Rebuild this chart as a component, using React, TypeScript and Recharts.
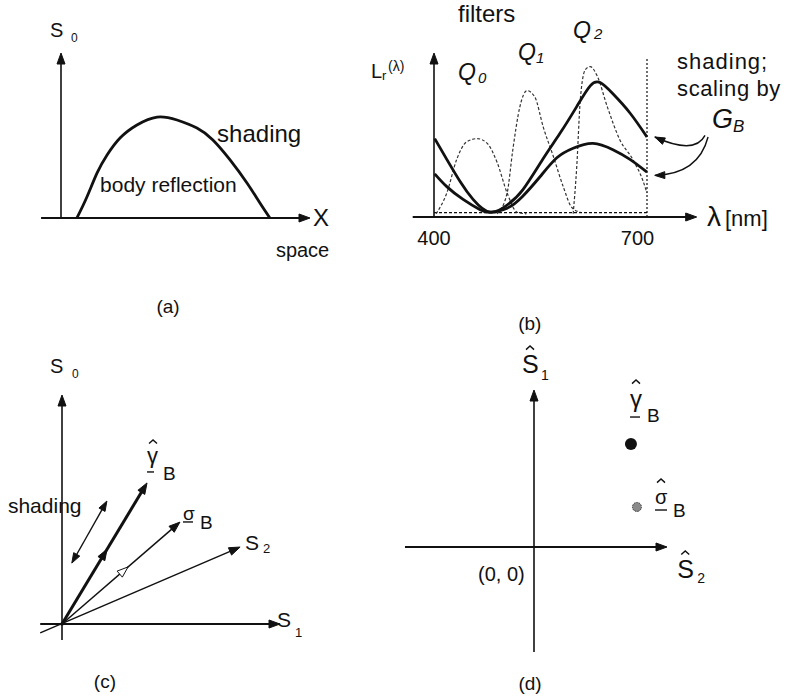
import React from 'react'
import { ComposedChart, Line, Scatter, XAxis, YAxis, ReferenceLine, ReferenceDot } from 'recharts'

const FONT = '"Liberation Sans", Arial, Helvetica, sans-serif'
const INK = '#111'

// (a) body reflection profile S0 along space
const spaceX = [0.64, 1.04, 1.45, 1.85, 2.37, 3.05, 3.86, 4.66, 5.46, 6.1, 6.79, 7.47, 7.99, 8.39]
const bodyS0 = [0, 1.27, 2.73, 3.82, 4.85, 5.64, 6.12, 5.94, 5.45, 4.73, 3.52, 2.12, 0.91, 0]

// (b) reflected spectra and filter curves over wavelength (nm)
const brightLam = [401, 418, 437, 455, 479, 503, 525, 553, 577, 601, 620, 634, 652, 676, 700]
const brightL = [0.49, 0.36, 0.22, 0.11, 0.03, 0.075, 0.17, 0.36, 0.52, 0.69, 0.82, 0.84, 0.77, 0.65, 0.5]
const dimLam = [401, 418, 441, 465, 479, 503, 525, 549, 573, 596, 624, 652, 676, 700]
const dimL = [0.27, 0.19, 0.11, 0.045, 0.03, 0.055, 0.13, 0.25, 0.37, 0.43, 0.46, 0.42, 0.36, 0.28]
const q0Lam = [403, 418, 432, 446, 461, 475, 489, 503, 517, 530]
const q0 = [0.02, 0.15, 0.36, 0.47, 0.49, 0.46, 0.34, 0.15, 0.03, 0.02]
const q1Lam = [489, 503, 511, 521, 531, 542, 554, 568, 582, 594, 606]
const q1 = [0.02, 0.15, 0.42, 0.69, 0.79, 0.75, 0.56, 0.38, 0.19, 0.06, 0.03]
const q2Lam = [596, 601, 606, 613, 620, 630, 644, 662, 680, 694, 700]
const q2 = [0.02, 0.31, 0.73, 0.92, 0.94, 0.88, 0.69, 0.48, 0.36, 0.23, 0.15]
const lamTicks = ['400', '700']

// (c) vectors in the (S1, S0) plane: [fromX, fromY, toX, toY]
const origin = [{ x: 0, y: 0 }]
const s2Axis = [-1.0, -0.39, 8.17, 3.36]
const gammaB = [0, 0, 3.9, 6.16]
const sigmaB = [0, 0, 5.41, 4.45]
const shadingDir = [0.45, 2.66, 2.06, 5.37]

// (d) normalised points in the (S2^, S1^) plane
const gammaHat = [{ x: 7.29, y: 6.56 }]
const sigmaHat = [{ x: 7.74, y: 2.55 }]

const zip = (xs: number[], ys: number[]) => xs.map((x, i) => ({ x, y: ys[i] }))

function head(x: number, y: number, a: number, len: number, half: number, hollow = false) {
  const bx = x - len * Math.cos(a)
  const by = y - len * Math.sin(a)
  const nx = -Math.sin(a) * half
  const ny = Math.cos(a) * half
  return (
    <polygon points={`${x},${y} ${bx + nx},${by + ny} ${bx - nx},${by - ny}`}
      fill={hollow ? '#fff' : INK} stroke={INK} strokeWidth={1} />
  )
}

type ArrowOpt = { start?: boolean; end?: boolean; mid?: number; hollowMid?: boolean; len?: number; half?: number; bend?: [number, number] }

const arrow = (o: ArrowOpt) => (p: any) => {
  const { x1, y1, x2, y2 } = p
  const sw = Number(p.strokeWidth ?? 1.5)
  const len = o.len ?? 11
  const half = o.half ?? 4
  if (o.bend) {
    const cx = (x1 + x2) / 2 + o.bend[0]
    const cy = (y1 + y2) / 2 + o.bend[1]
    const a = Math.atan2(y2 - cy, x2 - cx)
    return (
      <g>
        <path d={`M${x1},${y1} Q${cx},${cy} ${x2},${y2}`} fill="none" stroke={INK} strokeWidth={sw} />
        {head(x2, y2, a, len, half)}
      </g>
    )
  }
  const a = Math.atan2(y2 - y1, x2 - x1)
  const cut = len * 0.7
  const sx = o.start ? x1 + cut * Math.cos(a) : x1
  const sy = o.start ? y1 + cut * Math.sin(a) : y1
  const ex = o.end ? x2 - cut * Math.cos(a) : x2
  const ey = o.end ? y2 - cut * Math.sin(a) : y2
  const m = o.mid
  return (
    <g>
      <line x1={sx} y1={sy} x2={ex} y2={ey} stroke={INK} strokeWidth={sw} strokeDasharray={p.strokeDasharray} />
      {o.end && head(x2, y2, a, len, half)}
      {o.start && head(x1, y1, a + Math.PI, len, half)}
      {m != null && head(x1 + (x2 - x1) * m, y1 + (y2 - y1) * m, a, len, half, o.hollowMid)}
    </g>
  )
}

type Part = { t?: string; x?: number; y?: number; size?: number; italic?: boolean; anchor?: 'start' | 'middle' | 'end'; hat?: number; bar?: number; spacing?: number }

const label = (parts: Part[]) => (p: any) => (
  <g>
    {parts.map((q, i) => {
      const x = p.cx + (q.x ?? 0)
      const y = p.cy + (q.y ?? 0)
      if (q.hat) {
        return <polyline key={i} points={`${x - q.hat},${y + q.hat * 0.9} ${x},${y} ${x + q.hat},${y + q.hat * 0.9}`}
          fill="none" stroke={INK} strokeWidth={1.4} />
      }
      if (q.bar) return <line key={i} x1={x} y1={y} x2={x + q.bar} y2={y} stroke={INK} strokeWidth={1.4} />
      return (
        <text key={i} x={x} y={y} fontSize={q.size ?? 20} fontStyle={q.italic ? 'italic' : 'normal'}
          letterSpacing={q.spacing} textAnchor={q.anchor ?? 'start'} fontFamily={FONT} fill={INK}>{q.t}</text>
      )
    })}
  </g>
)

const txt = (x: number, y: number, parts: Part[]) => (
  <ReferenceDot x={x} y={y} r={0} ifOverflow="visible" shape={label(parts)} />
)

const seg = (v: number[], o: ArrowOpt, width = 1.5, dash?: string) => (
  <ReferenceLine segment={[{ x: v[0], y: v[1] }, { x: v[2], y: v[3] }]} ifOverflow="visible"
    stroke={INK} strokeWidth={width} strokeDasharray={dash} shape={arrow(o)} />
)

const dashed = { stroke: '#333', strokeWidth: 1.2, strokeDasharray: '3 2', dot: false as const, isAnimationActive: false, type: 'monotone' as const }

export default function App() {
  return (
    <div style={{ position: 'absolute', left: 0, top: 0, width: 797, height: 700, background: '#fff', overflow: 'hidden' }}>
      {/* (a) */}
      <div style={{ position: 'absolute', left: 0, top: 0 }}>
        <ComposedChart width={360} height={330} margin={{ top: 53, left: 61, right: 50, bottom: 112 }}>
          <XAxis type="number" dataKey="x" domain={[0, 10]} hide />
          <YAxis type="number" dataKey="y" domain={[0, 10]} hide />
          {seg([-0.8, 0, 10, 0], { end: true }, 2)}
          {seg([0, 0, 0, 10], { end: true }, 1.6)}
          <Line data={zip(spaceX, bodyS0)} dataKey="y" type="natural" stroke={INK} strokeWidth={2.8} dot={false} isAnimationActive={false} />
          {txt(-0.44, 10.97, [{ t: 'S', size: 20 }, { t: '0', x: 21, y: 5, size: 12 }])}
          {txt(6.27, 4.6, [{ t: 'shading', size: 24 }])}
          {txt(1.57, 1.58, [{ t: 'body reflection', size: 21 }])}
          {txt(10.12, -0.48, [{ t: 'X', size: 24 }])}
          {txt(8.63, -2.36, [{ t: 'space', size: 20 }])}
          {txt(4.3, -5.76, [{ t: '(a)', size: 19, anchor: 'middle' }])}
        </ComposedChart>
      </div>

      {/* (b) */}
      <div style={{ position: 'absolute', left: 360, top: 0 }}>
        <ComposedChart width={437} height={340} margin={{ top: 57, left: 74, right: 150, bottom: 123 }}>
          <XAxis type="number" dataKey="x" domain={[400, 700]} hide />
          <YAxis type="number" dataKey="y" domain={[0, 1]} hide />
          {seg([370, 0, 770, 0], { end: true }, 2)}
          {seg([400, 0, 400, 1.025], { end: true }, 1.6)}
          {seg([700, 0, 700, 1.0], {}, 1.2, '2 2')}
          {seg([400, 0.027, 700, 0.027], {}, 1.2, '3 2')}
          <Line data={zip(q0Lam, q0)} dataKey="y" {...dashed} />
          <Line data={zip(q1Lam, q1)} dataKey="y" {...dashed} />
          <Line data={zip(q2Lam, q2)} dataKey="y" {...dashed} />
          <Line data={zip(brightLam, brightL)} dataKey="y" type="natural" stroke={INK} strokeWidth={2.8} dot={false} isAnimationActive={false} />
          <Line data={zip(dimLam, dimL)} dataKey="y" type="natural" stroke={INK} strokeWidth={2.8} dot={false} isAnimationActive={false} />
          {seg([781.7, 0.51, 711, 0.5], { bend: [15, 19], len: 10, half: 3.5 }, 1.4)}
          {seg([786, 0.5, 711, 0.26], { bend: [17, 18], len: 10, half: 3.5 }, 1.4)}
          {txt(433.8, 1.219, [{ t: 'filters', size: 24 }])}
          {txt(433.8, 0.856, [{ t: 'Q', size: 23, italic: true }, { t: '0', x: 20, y: 3, size: 15, italic: true }])}
          {txt(518.3, 0.98, [{ t: 'Q', size: 23, italic: true }, { t: '1', x: 18, y: 3, size: 15, italic: true }])}
          {txt(595.8, 1.119, [{ t: 'Q', size: 23, italic: true }, { t: '2', x: 21, y: 1, size: 15, italic: true }])}
          {txt(311.3, 0.869, [{ t: 'L', size: 20 }, { t: 'r', x: 11, y: 2, size: 13 }, { t: '(λ)', x: 17, y: -7, size: 14 }])}
          {txt(784.5, -0.056, [{ t: 'λ', size: 28 }, { t: '[nm]', x: 18, y: 0, size: 22 }])}
          {txt(400, -0.175, [{ t: lamTicks[0], size: 20, anchor: 'middle' }])}
          {txt(686.6, -0.175, [{ t: lamTicks[1], size: 20, anchor: 'middle' }])}
          {txt(742.3, 0.925, [{ t: 'shading;', size: 22, spacing: 1 }])}
          {txt(742.3, 0.755, [{ t: 'scaling by', size: 22, spacing: 0.6 }])}
          {txt(791.5, 0.556, [{ t: 'G', size: 27, italic: true }, { t: 'B', x: 21, y: 4, size: 17, italic: true }])}
          {txt(535, -0.706, [{ t: '(b)', size: 19, anchor: 'middle' }])}
        </ComposedChart>
      </div>

      {/* (c) */}
      <div style={{ position: 'absolute', left: 0, top: 340 }}>
        <ComposedChart width={360} height={360} margin={{ top: 55, left: 62, right: 80, bottom: 76 }}>
          <XAxis type="number" dataKey="x" domain={[0, 10]} hide />
          <YAxis type="number" dataKey="y" domain={[0, 10]} hide />
          {seg([0, -0.7, 0, 10], { end: true }, 1.6)}
          {seg([-1.0, 0, 10, 0], { end: true }, 1.8)}
          {seg(s2Axis, { end: true }, 1.5)}
          {seg(gammaB, { end: true, mid: 0.53 }, 3)}
          {seg(sigmaB, { end: true, mid: 0.56, hollowMid: true }, 1.5)}
          {seg(shadingDir, { start: true, end: true, len: 10, half: 3.5 }, 1.4)}
          <Scatter data={origin} isAnimationActive={false}
            shape={(p: any) => <circle cx={p.cx} cy={p.cy} r={1.8} fill={INK} />} />
          {txt(-0.55, 10.96, [{ t: 'S', size: 20 }, { t: '0', x: 22, y: 5, size: 12 }])}
          {txt(9.86, -0.13, [{ t: 'S', size: 21 }, { t: '1', x: 18, y: 10, size: 13 }])}
          {txt(8.39, 3.23, [{ t: 'S', size: 21 }, { t: '2', x: 18, y: 3, size: 13 }])}
          {txt(-2.48, 4.85, [{ t: 'shading', size: 21 }])}
          {txt(3.9, 6.29, [{ t: 'γ', size: 22, y: -17 }, { hat: 4, x: 6, y: -40 }, { bar: 7, x: 0, y: -8 }, { t: 'B', x: 16, y: 0, size: 19 }])}
          {txt(5.55, 4.15, [{ t: 'σ', size: 19, y: -9 }, { bar: 10, x: 0, y: -7 }, { t: 'B', x: 17, y: 0, size: 19 }])}
          {txt(1.97, -2.79, [{ t: '(c)', size: 19, anchor: 'middle' }])}
        </ComposedChart>
      </div>

      {/* (d) */}
      <div style={{ position: 'absolute', left: 380, top: 340 }}>
        <ComposedChart width={417} height={360} margin={{ top: 50, left: 154, right: 130, bottom: 153 }}>
          <XAxis type="number" dataKey="x" domain={[0, 10]} hide />
          <YAxis type="number" dataKey="y" domain={[0, 10]} hide />
          {seg([-9.7, 0, 10, 0], { end: true }, 1.8)}
          {seg([0, -6.69, 0, 10], { end: true }, 1.6)}
          <Scatter data={gammaHat} isAnimationActive={false}
            shape={(p: any) => <circle cx={p.cx} cy={p.cy} r={6} fill={INK} />} />
          <Scatter data={sigmaHat} isAnimationActive={false}
            shape={(p: any) => <circle cx={p.cx} cy={p.cy} r={4.5} fill="#8a8a8a" stroke="#333" strokeWidth={1} strokeDasharray="1.5 1" />} />
          {txt(-0.9, 11.08, [{ t: 'S', size: 25 }, { hat: 4, x: 8, y: -27 }, { t: '1', x: 19, y: 7, size: 14 }])}
          {txt(10.77, -1.97, [{ t: 'S', size: 25 }, { hat: 4, x: 8, y: -27 }, { t: '2', x: 20, y: 5, size: 14 }])}
          {txt(-4.21, -2.17, [{ t: '(0, 0)', size: 20 }])}
          {txt(7.22, 7.96, [{ t: 'γ', size: 24, y: -15 }, { hat: 4, x: 6, y: -42 }, { bar: 10, x: 0, y: -5 }, { t: 'B', x: 17, y: 0, size: 19 }])}
          {txt(9.1, 1.91, [{ t: 'σ', size: 20, y: -13 }, { hat: 4, x: 6, y: -38 }, { bar: 12, x: 0, y: -7 }, { t: 'B', x: 18, y: 0, size: 19 }])}
          {txt(-0.3, -9.11, [{ t: '(d)', size: 19, anchor: 'middle' }])}
        </ComposedChart>
      </div>
    </div>
  )
}
